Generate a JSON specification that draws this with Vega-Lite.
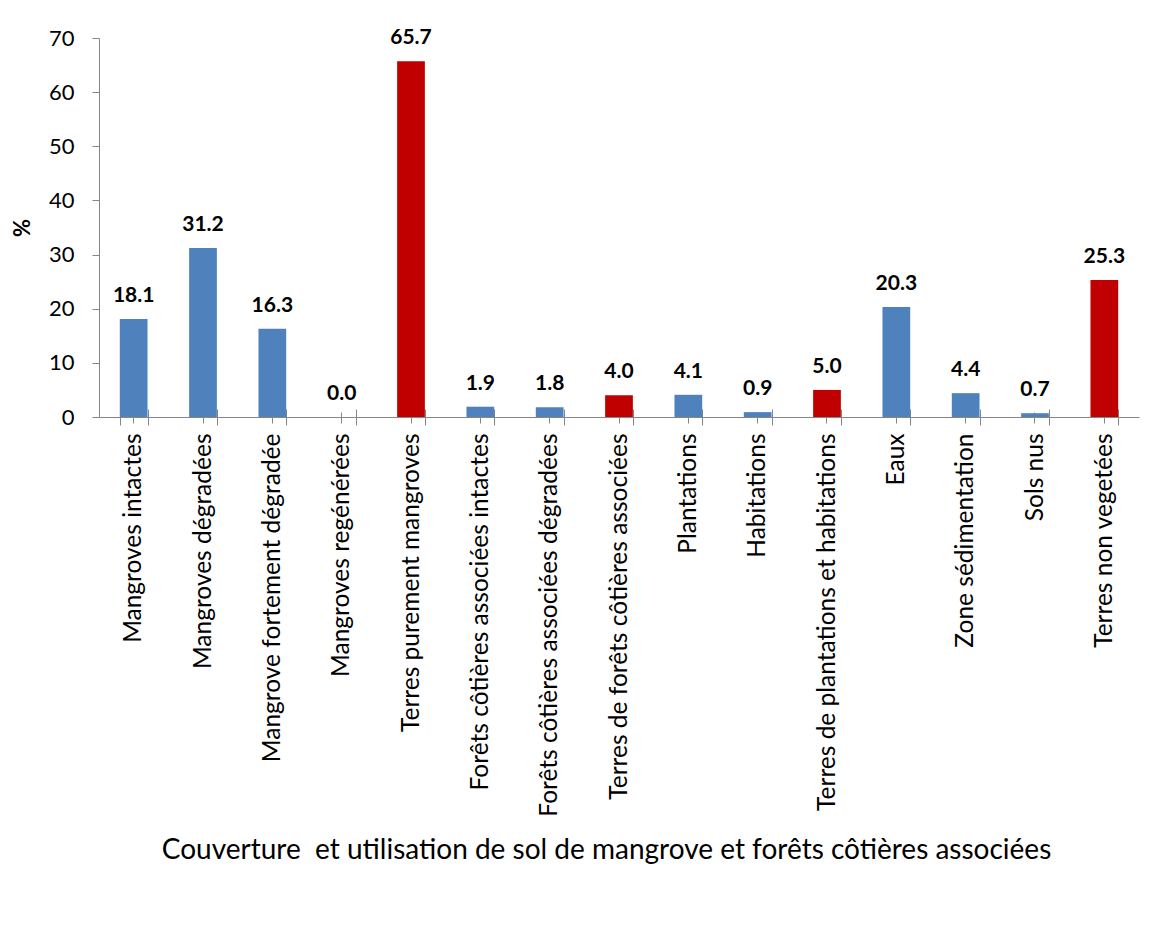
{
  "$schema": "https://vega.github.io/schema/vega-lite/v6.json",
  "autosize": {"type": "none"},
  "padding": {"left": 99, "top": 38, "right": 20, "bottom": 523},
  "width": 1040,
  "height": 379,
  "background": "white",
  "config": {
    "view": {"stroke": null},
    "font": "Lato",
    "axis": {"labelFont": "Lato", "titleFont": "Lato", "labelColor": "black", "titleColor": "black"}
  },
  "data": {
    "values": [
      {"classe": "Mangroves intactes", "pct": 18.1, "niveau": "classe"},
      {"classe": "Mangroves dégradées", "pct": 31.2, "niveau": "classe"},
      {"classe": "Mangrove fortement dégradée", "pct": 16.3, "niveau": "classe"},
      {"classe": "Mangroves regénérées", "pct": 0.0, "niveau": "classe"},
      {"classe": "Terres purement mangroves", "pct": 65.7, "niveau": "total"},
      {"classe": "Forêts côtières associées intactes", "pct": 1.9, "niveau": "classe"},
      {"classe": "Forêts côtières associées dégradées", "pct": 1.8, "niveau": "classe"},
      {"classe": "Terres de forêts côtières associées", "pct": 4.0, "niveau": "total"},
      {"classe": "Plantations", "pct": 4.1, "niveau": "classe"},
      {"classe": "Habitations", "pct": 0.9, "niveau": "classe"},
      {"classe": "Terres de plantations et habitations", "pct": 5.0, "niveau": "total"},
      {"classe": "Eaux", "pct": 20.3, "niveau": "classe"},
      {"classe": "Zone sédimentation", "pct": 4.4, "niveau": "classe"},
      {"classe": "Sols nus", "pct": 0.7, "niveau": "classe"},
      {"classe": "Terres non vegetées", "pct": 25.3, "niveau": "total"}
    ]
  },
  "encoding": {
    "y": {
      "field": "pct",
      "type": "quantitative",
      "scale": {"domain": [0, 70], "nice": false},
      "axis": {
        "values": [0, 10, 20, 30, 40, 50, 60, 70],
        "title": "%",
        "titleFontSize": 22,
        "titleFontWeight": "bold",
        "titlePadding": 14,
        "labelFontSize": 22,
        "labelPadding": 18,
        "tickSize": 7,
        "tickColor": "#868686",
        "domainColor": "#868686",
        "grid": true,
        "gridColor": "#868686",
        "gridOpacity": {"condition": {"test": "datum.value === 0", "value": 1}, "value": 0}
      }
    }
  },
  "layer": [
    {
      "mark": {"type": "bar"},
      "encoding": {
        "x": {
          "field": "classe",
          "type": "nominal",
          "sort": null,
          "scale": {"paddingInner": 0.6, "paddingOuter": 0.3},
          "axis": {
            "orient": "bottom",
            "title": "Couverture \u00a0et utilisation de sol de mangrove et forêts côtières associées",
            "titleFontSize": 28,
            "titleFontWeight": "normal",
            "titleBaseline": "middle",
            "titleY": 441,
            "titleX": 507,
            "labelAngle": -90,
            "labelFontSize": 24.5,
            "labelPadding": 8,
            "labelLimit": 500,
            "domain": false,
            "offset": -8,
            "tickBand": "extent",
            "tickSize": 16,
            "tickColor": "#868686"
          }
        },
        "color": {
          "field": "niveau",
          "type": "nominal",
          "scale": {"domain": ["classe", "total"], "range": ["#4F81BD", "#C00000"]},
          "legend": null
        }
      }
    },
    {
      "mark": {"type": "text", "baseline": "bottom", "dy": -13, "fontSize": 21, "fontWeight": "bold", "color": "black"},
      "encoding": {
        "x": {
          "field": "classe",
          "type": "nominal",
          "sort": null,
          "axis": {
            "orient": "bottom",
            "title": null,
            "labels": false,
            "domain": false,
            "offset": -5,
            "tickBand": "center",
            "tickSize": 11,
            "tickColor": "#868686"
          }
        },
        "text": {"field": "pct", "type": "quantitative", "format": ".1f"}
      }
    }
  ],
  "resolve": {"axis": {"x": "independent"}}
}
